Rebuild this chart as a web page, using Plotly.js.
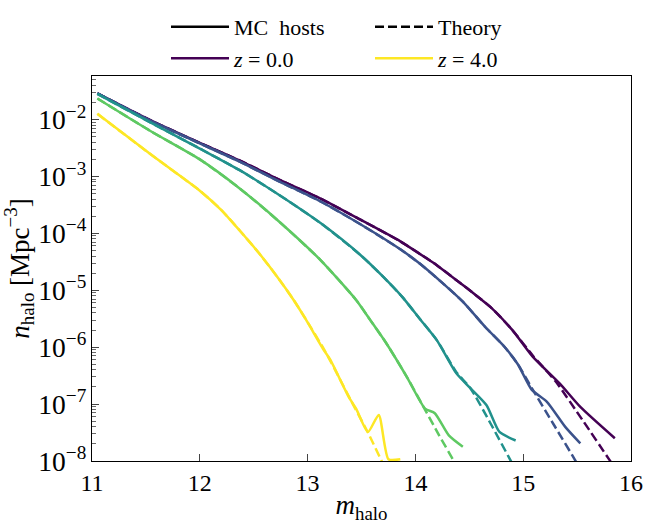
<!DOCTYPE html>
<html><head><meta charset="utf-8">
<script src="https://cdn.plot.ly/plotly-3.0.1.min.js"></script>
<style>html,body{margin:0;padding:0;background:#fff}#chart{width:654px;height:524px}</style>
</head><body><div id="chart"></div>
<script>
// colours for z = 0,1,2,3,4 (viridis)
const redshifts = [0, 1, 2, 3, 4];
const colors = ['#440154', '#3b528b', '#21918c', '#5ec962', '#fde725'];

// MC hosts: halo mass (log10) and log10 n_halo [Mpc^-3]
const mcMass_z0 = [11.05, 11.55, 12.0, 12.37, 12.74, 13.12, 13.49, 13.86, 14.04, 14.17, 14.4, 14.55, 14.7, 14.9, 15.09, 15.34, 15.53, 15.85];
const mcLogN_z0 = [-1.54, -2.02, -2.41, -2.72, -3.06, -3.39, -3.76, -4.14, -4.36, -4.52, -4.85, -5.07, -5.30, -5.70, -6.17, -6.64, -7.05, -7.60];
const mcMass_z1 = [11.05, 11.55, 12.0, 12.37, 12.74, 13.12, 13.49, 13.86, 14.04, 14.25, 14.44, 14.65, 14.82, 14.95, 15.08, 15.22, 15.39, 15.53];
const mcLogN_z1 = [-1.54, -2.03, -2.42, -2.74, -3.09, -3.44, -3.84, -4.28, -4.53, -4.87, -5.20, -5.65, -5.98, -6.30, -6.75, -6.96, -7.40, -7.69];
const mcMass_z2 = [11.05, 11.55, 12.0, 12.37, 12.74, 13.12, 13.49, 13.7, 13.88, 14.04, 14.2, 14.38, 14.51, 14.66, 14.78, 14.93];
const mcLogN_z2 = [-1.55, -2.06, -2.51, -2.89, -3.33, -3.82, -4.38, -4.76, -5.12, -5.50, -5.88, -6.46, -6.72, -7.02, -7.49, -7.64];
const mcMass_z3 = [11.05, 11.55, 12.0, 12.37, 12.74, 13.12, 13.45, 13.58, 13.73, 13.92, 14.09, 14.18, 14.31, 14.44];
const mcLogN_z3 = [-1.63, -2.21, -2.70, -3.21, -3.80, -4.47, -5.17, -5.52, -5.93, -6.52, -7.08, -7.16, -7.55, -7.75];
const mcMass_z4 = [11.05, 11.55, 12.0, 12.2, 12.37, 12.55, 12.74, 12.87, 12.98, 13.15, 13.21, 13.38, 13.45, 13.56, 13.66, 13.75, 13.86];
const mcLogN_z4 = [-1.90, -2.62, -3.25, -3.59, -3.95, -4.35, -4.82, -5.17, -5.50, -6.05, -6.22, -6.87, -7.08, -7.49, -7.19, -7.97, -7.97];

// Theory curves
const thMass_z0 = [11.05, 11.55, 12.0, 12.37, 12.74, 13.12, 13.49, 13.86, 14.04, 14.17, 14.4, 14.55, 14.7, 14.9, 15.09, 15.3, 15.55, 15.8, 15.95];
const thLogN_z0 = [-1.54, -2.02, -2.41, -2.72, -3.06, -3.39, -3.76, -4.14, -4.36, -4.52, -4.85, -5.07, -5.30, -5.70, -6.15, -6.60, -7.28, -7.98, -8.4];
const thMass_z1 = [11.05, 11.55, 12.0, 12.37, 12.74, 13.12, 13.49, 13.86, 14.04, 14.25, 14.44, 14.65, 14.82, 14.95, 15.08, 15.28, 15.48, 15.6];
const thLogN_z1 = [-1.54, -2.03, -2.42, -2.74, -3.09, -3.44, -3.84, -4.28, -4.53, -4.87, -5.20, -5.65, -5.98, -6.30, -6.72, -7.35, -7.98, -8.4];
const thMass_z2 = [11.05, 11.55, 12.0, 12.37, 12.74, 13.12, 13.49, 13.7, 13.88, 14.04, 14.2, 14.38, 14.51, 14.70, 14.88, 15.0];
const thLogN_z2 = [-1.55, -2.06, -2.51, -2.89, -3.33, -3.82, -4.38, -4.76, -5.12, -5.50, -5.88, -6.44, -6.72, -7.35, -7.98, -8.4];
const thMass_z3 = [11.05, 11.55, 12.0, 12.37, 12.74, 13.12, 13.45, 13.58, 13.73, 13.92, 14.09, 14.22, 14.35, 14.45];
const thLogN_z3 = [-1.63, -2.21, -2.70, -3.21, -3.80, -4.47, -5.17, -5.52, -5.93, -6.52, -7.10, -7.55, -7.98, -8.35];
const thMass_z4 = [11.05, 11.55, 12.0, 12.2, 12.37, 12.55, 12.74, 12.87, 12.98, 13.15, 13.25, 13.40, 13.56, 13.70, 13.8];
const thLogN_z4 = [-1.90, -2.62, -3.25, -3.59, -3.95, -4.35, -4.82, -5.17, -5.50, -6.03, -6.38, -6.93, -7.50, -8.05, -8.4];

const mcMass = [mcMass_z0, mcMass_z1, mcMass_z2, mcMass_z3, mcMass_z4];
const mcLogN = [mcLogN_z0, mcLogN_z1, mcLogN_z2, mcLogN_z3, mcLogN_z4];
const thMass = [thMass_z0, thMass_z1, thMass_z2, thMass_z3, thMass_z4];
const thLogN = [thLogN_z0, thLogN_z1, thLogN_z2, thLogN_z3, thLogN_z4];

const FONT = '"Liberation Serif", "DejaVu Serif", serif';
const LW = 2.5;
const traces = [];
redshifts.forEach((z, i) => {
  traces.push({x: thMass[i], y: thLogN[i].map(v => Math.pow(10, v)), mode: 'lines', showlegend: false,
    line: {color: colors[i], width: LW, dash: '9px,4px', shape: 'spline', smoothing: 0.6}, hoverinfo: 'skip'});
  traces.push({x: mcMass[i], y: mcLogN[i].map(v => Math.pow(10, v)), mode: 'lines', showlegend: false,
    line: {color: colors[i], width: LW, shape: 'spline', smoothing: 0.6}, hoverinfo: 'skip'});
});
// legend entries
traces.push({x: [null], y: [null], mode: 'lines', name: 'MC&nbsp;&nbsp;hosts', line: {color: '#000', width: LW}});
traces.push({x: [null], y: [null], mode: 'lines', name: 'Theory', line: {color: '#000', width: LW, dash: '9px,4px'}});
traces.push({x: [null], y: [null], mode: 'lines', name: '<i>z</i> = 0.0', line: {color: colors[0], width: LW}});
traces.push({x: [null], y: [null], mode: 'lines', name: '<i>z</i> = 4.0', line: {color: colors[4], width: LW}});

const layout = {
  width: 654, height: 524,
  margin: {l: 92, r: 23, t: 76, b: 63, autoexpand: false},
  paper_bgcolor: '#fff', plot_bgcolor: '#fff',
  font: {family: FONT, size: 22, color: '#000'},
  showlegend: true,
  legend: {orientation: 'h', x: 0.1373, xanchor: 'left', y: 1.182, yanchor: 'top',
    itemwidth: 58, entrywidth: 131, bgcolor: 'rgba(0,0,0,0)', font: {family: FONT, size: 22}},
  xaxis: {range: [11, 16], dtick: 1, tick0: 11, ticks: 'inside', ticklen: 7, tickwidth: 1,
    showline: true, linewidth: 1.3, linecolor: '#000', mirror: true, showgrid: false, zeroline: false,
    tickfont: {family: FONT, size: 24},
    title: {text: '<i>m</i><sub>halo</sub>', font: {family: FONT, size: 27}, standoff: 4}},
  yaxis: {type: 'log', range: [-8, -1.235], dtick: 1, ticks: 'inside', ticklen: 7, tickwidth: 1,
    exponentformat: 'power', showline: true, linewidth: 1.3, linecolor: '#000', mirror: true,
    showgrid: false, zeroline: false, tickfont: {family: FONT, size: 22},
    minor: {ticks: 'inside', ticklen: 3.5, tickwidth: 0.8, dtick: 'D1', showgrid: false},
    title: {text: '<i>n</i><sub>halo</sub> [Mpc<sup>−3</sup>]', font: {family: FONT, size: 27}, standoff: 0}}
};
Plotly.newPlot('chart', traces, layout, {displayModeBar: false, staticPlot: true});
</script></body></html>
